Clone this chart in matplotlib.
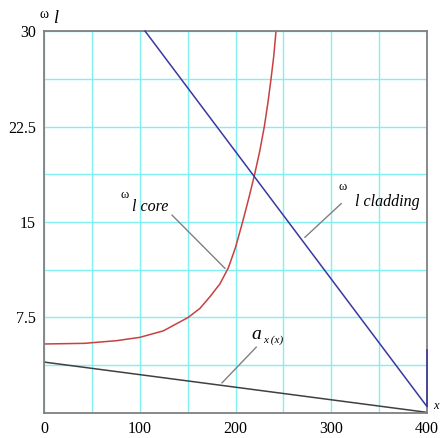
import numpy as np
import matplotlib.pyplot as plt

plt.rcParams['font.family'] = 'Liberation Serif'

# values
core_x = [0, 42.8, 50, 75.9, 100, 124.6, 150.5, 162.9, 173.4, 183.8, 192.5,
          200, 207.4, 214.3, 220, 225.4, 230.1, 233.9, 237.1, 239.9, 242.3]
core_y = [5.42, 5.47, 5.52, 5.68, 5.94, 6.45, 7.5, 8.22, 9.14, 10.15, 11.4,
          13.0, 15.0, 17.0, 18.75, 20.6, 22.5, 24.4, 26.25, 28.0, 30.0]
clad_x = [105.5, 400, 400]
clad_y = [30, 0.5, 4.95]
ax_x = [0, 400]
ax_y = [4.0, 0.05]

xticks = [0, 100, 200, 300, 400]
yticks = [7.5, 15, 22.5, 30]

fig = plt.figure(figsize=(4.4, 4.38), dpi=100)
ax = fig.add_axes([0.1, 0.0571, 0.8705, 0.8721])

ax.set_xlim(0, 400)
ax.set_ylim(0, 30)
ax.set_xticks(np.arange(0, 401, 50))
ax.set_yticks(np.arange(0, 30.1, 3.75))
ax.set_xticklabels([str(v) if v in xticks else "" for v in range(0, 401, 50)])
ax.set_yticklabels(["" if v not in yticks else ("%g" % v) for v in np.arange(0, 30.1, 3.75)])
ax.tick_params(length=0, labelsize=11.5, pad=6)
ax.grid(color="#80f0f0", linewidth=1)
for s in ax.spines.values():
    s.set_color("#808080")
    s.set_linewidth(1.3)

ax.plot(core_x, core_y, color="#c84040", lw=1.1)
ax.plot(clad_x, clad_y, color="#3838a0", lw=1.1, zorder=4, clip_on=False)
ax.plot(ax_x, ax_y, color="#404040", lw=1.1)

lead = dict(arrowstyle="-", color="#808080", lw=1)
ax.annotate("", xy=(191.1, 11.2), xytext=(131.6, 15.7), arrowprops=lead)
ax.annotate("", xy=(270.2, 13.64), xytext=(312.6, 16.6), arrowprops=lead)
ax.annotate("", xy=(183.8, 2.2), xytext=(223.8, 5.34), arrowprops=lead)

ax.text(84.6, 17.1, "ω", fontsize=9, ha="center", va="center")
ax.text(92, 16.2, "l core", fontsize=11.5, style="italic", va="center")
ax.text(312.3, 17.75, "ω", fontsize=9, ha="center", va="center")
ax.text(324.5, 16.57, "l cladding", fontsize=11.5, style="italic", va="center")
ax.text(221.4, 6.2, "a", fontsize=14, style="italic", ha="center", va="center")
ax.text(228.7, 5.75, "x (x)", fontsize=8, style="italic", va="center")

ax.text(0, 31.3, "ω", fontsize=10, ha="center", va="center", clip_on=False)
ax.text(9, 30.95, "l", fontsize=13, style="italic", va="center", clip_on=False)
ax.text(406, 0.55, "x", fontsize=9, style="italic", va="center", clip_on=False)

fig.savefig("out.png", dpi=100)
